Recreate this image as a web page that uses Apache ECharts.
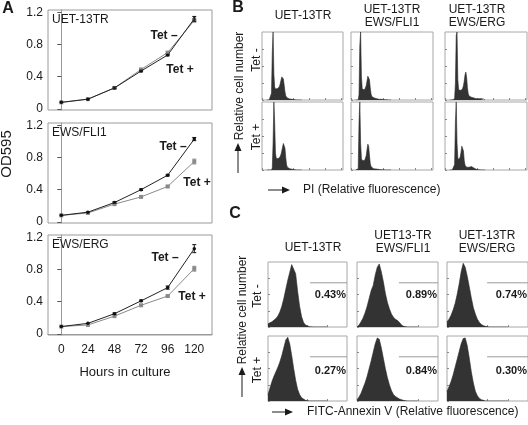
<!DOCTYPE html>
<html><head><meta charset="utf-8">
<script src="https://cdn.jsdelivr.net/npm/echarts@6/dist/echarts.min.js"></script>
<style>html,body{margin:0;padding:0;background:#fff}#c{width:528px;height:425px}</style>
</head><body><div id="c"></div>
<script>
// ---------- Panel A data ----------
const hours = [0, 24, 48, 72, 96, 120];
const yTicksA = [0, 0.4, 0.8, 1.2];
const growthNames = ['UET-13TR', 'EWS/FLI1', 'EWS/ERG'];
const uetMinus = [0.08, 0.12, 0.26, 0.47, 0.67, 1.12];
const uetPlus  = [0.08, 0.12, 0.26, 0.49, 0.70, 1.10];
const fliMinus = [0.08, 0.12, 0.24, 0.40, 0.58, 1.03];
const fliPlus  = [0.08, 0.11, 0.22, 0.31, 0.44, 0.75];
const ergMinus = [0.09, 0.13, 0.25, 0.41, 0.575, 1.06];
const ergPlus  = [0.09, 0.11, 0.22, 0.355, 0.47, 0.81];
const uetMinusErr = [0, 0, 0.01, 0.01, 0.01, 0.03];
const uetPlusErr  = [0, 0, 0.01, 0.01, 0.01, 0.02];
const fliMinusErr = [0, 0, 0.01, 0.01, 0.01, 0.02];
const fliPlusErr  = [0, 0, 0.01, 0.01, 0.01, 0.03];
const ergMinusErr = [0, 0, 0.01, 0.01, 0.02, 0.05];
const ergPlusErr  = [0, 0, 0, 0.01, 0.01, 0.03];

// ---------- Panel B data (PI histograms, channel vs relative count) ----------
const bColTitles = [['UET-13TR'], ['UET-13TR', 'EWS/FLI1'], ['UET-13TR', 'EWS/ERG']];
const bX = [60,70,80,90,100,110,120,130,140,150,160,170,180,190,200,210,220,230,240,250,260,270,280,290,300,310,320,330,340,350,360,370,380,390,400,410,420,430,440,450,460,470,480,490,500];
const bUetMinus = [0,0,0,0,0,1,10,70,100,38,19,16,15,16,17,18,20,24,29,34,35,31,22,12,6,4,3,2,2,1.5,1,1,1,0.5,0.5,0.5,0,0,0,0,0,0,0,0,0];
const bFliMinus = [0,0,0,0,8,80,100,35,16,14,14,15,17,21,28,35,37,30,18,9,5,4,3,3,2,2,2,1.5,1.5,1,1,1,1,0.5,0.5,0.5,0.5,0.3,0.2,0,0,0,0,0,0];
const bErgMinus = [0,0,0,0,0,0,2,25,95,100,30,15,13,13,14,15,17,21,28,37,41,33,18,9,6,5,4,4,3,3,3,2.5,2.5,2,2,2,2,2,2,2,2,1.5,1.5,1,0];
const bUetPlus  = [0,0,0,0,0,0,0,3,40,100,70,25,17,16,16,17,18,20,23,28,34,39,40,32,18,8,4,3,2,2,1.5,1,1,1,0.5,0.5,0.5,0,0,0,0,0,0,0,0];
const bFliPlus  = [0,0,0,2,70,100,40,17,14,13,13,14,16,21,30,38,35,22,10,5,3,2.5,2,2,1.5,1.5,1,1,1,0.8,0.6,0.5,0.5,0.3,0.2,0,0,0,0,0,0,0,0,0,0];
const bErgPlus  = [0,0,0,0,0,0,8,70,100,40,18,15,16,19,26,35,37,28,14,7,5,4,4,4,4,5,5,5,4,4,3,2,1.5,1,0.5,0.5,0.3,0,0,0,0,0,0,0,0];

// ---------- Panel C data (Annexin V histograms, log decades vs relative count) ----------
const cColTitles = [['UET-13TR'], ['UET13-TR', 'EWS/FLI1'], ['UET-13TR', 'EWS/ERG']];
const cX = [0,0.1,0.2,0.3,0.4,0.5,0.6,0.7,0.8,0.9,1.0,1.1,1.2,1.3,1.4,1.5,1.6,1.7,1.8,1.9,2.0,2.1,2.2,2.3,2.4,2.5,2.6,2.7,2.8,2.9,3.0];
const cUetMinus = [5,6,8,10,13,17,23,32,44,58,72,84,96,98,82,55,32,16,7,3,1,0.5,0,0,0,0,0,0,0,0,0];
const cFliMinus = [0,3,8,14,22,32,44,56,64,80,92,97,85,70,52,38,28,20,15,12,10,7,3,1,0.5,0,0,0,0,0,0];
const cErgMinus = [8,12,18,26,36,50,66,85,98,92,78,62,45,30,20,12,7,4,2,1,0.5,0,0,0,0,0,0,0,0,0,0];
const cUetPlus  = [10,20,30,38,45,52,60,70,82,94,98,88,70,50,32,18,10,5,2,1,0,0,0,0,0,0,0,0,0,0,0];
const cFliPlus  = [2,6,12,20,28,38,50,62,75,88,97,95,82,66,50,36,25,16,10,7,5,3,2,1,0.5,0,0,0,0,0,0];
const cErgPlus  = [15,22,30,40,52,64,76,88,96,97,85,66,45,28,15,8,4,2,1,0,0,0,0,0,0,0,0,0,0,0,0];
const cPercents = ['0.43%', '0.89%', '0.74%', '0.27%', '0.84%', '0.30%'];
const cGateStart = [2.13, 2.07, 1.98];
const cGateLevel = 68;

// ---------- build ----------
const FONT = '"Liberation Sans", Arial, Helvetica, sans-serif';
const INK = '#1a1a1a';
const grid = [], xAxis = [], yAxis = [], series = [], graphic = [];

function text(x, y, s, size, o) {
  o = o || {};
  return {type: 'text', x: x, y: y, rotation: o.rot || 0, z: 100,
    style: {text: s, x: 0, y: 0, fontSize: size, fontFamily: FONT, fontWeight: o.bold ? 'bold' : 'normal',
      fill: o.fill || INK, textAlign: o.align || 'center', textVerticalAlign: 'middle'}};
}
function arrowUp(x, yBottom, yTop) {
  graphic.push({type: 'line', shape: {x1: x, y1: yBottom, x2: x, y2: yTop + 6}, style: {stroke: INK, lineWidth: 1}});
  graphic.push({type: 'polygon', shape: {points: [[x - 3.5, yTop + 8], [x + 3.5, yTop + 8], [x, yTop]]}, style: {fill: INK}});
}
function arrowRight(xLeft, xRight, y) {
  graphic.push({type: 'line', shape: {x1: xLeft, y1: y, x2: xRight - 6, y2: y}, style: {stroke: INK, lineWidth: 1}});
  graphic.push({type: 'polygon', shape: {points: [[xRight - 8, y - 3.5], [xRight - 8, y + 3.5], [xRight, y]]}, style: {fill: INK}});
}

// Panel A
const aTops = [10, 123, 235];
const aMinus = [uetMinus, fliMinus, ergMinus], aPlus = [uetPlus, fliPlus, ergPlus];
const aMinusErr = [uetMinusErr, fliMinusErr, ergMinusErr], aPlusErr = [uetPlusErr, fliPlusErr, ergPlusErr];
function errSeries(gi, vals, errs, color) {
  return {type: 'custom', xAxisIndex: gi, yAxisIndex: gi, z: 5,
    data: hours.map((h, i) => [h, vals[i] - errs[i], vals[i] + errs[i]]),
    renderItem: function (params, api) {
      const lo = api.coord([api.value(0), api.value(1)]);
      const hi = api.coord([api.value(0), api.value(2)]);
      if (Math.abs(lo[1] - hi[1]) < 1.5) return null;
      const st = {stroke: color, lineWidth: 1};
      return {type: 'group', children: [
        {type: 'line', shape: {x1: lo[0], y1: lo[1], x2: hi[0], y2: hi[1]}, style: st},
        {type: 'line', shape: {x1: lo[0] - 2, y1: lo[1], x2: lo[0] + 2, y2: lo[1]}, style: st},
        {type: 'line', shape: {x1: hi[0] - 2, y1: hi[1], x2: hi[0] + 2, y2: hi[1]}, style: st}]};
    }};
}
aTops.forEach((top, i) => {
  const gi = grid.length;
  grid.push({left: 48, top: top, width: 164, height: 100, show: true, borderColor: '#9a9a9a', borderWidth: 1, backgroundColor: 'transparent'});
  xAxis.push({gridIndex: gi, type: 'value', min: -12, max: 136,
    axisLine: {show: i === 2, lineStyle: {color: '#9a9a9a'}}, axisTick: {show: false}, splitLine: {show: false},
    axisLabel: {show: i === 2, customValues: hours, fontSize: 12, fontFamily: FONT, color: INK, margin: 9}});
  yAxis.push({gridIndex: gi, type: 'value', min: -0.015, max: 1.23,
    axisLine: {show: true, lineStyle: {color: '#9a9a9a'}},
    axisTick: {show: true, customValues: yTicksA, length: 4, lineStyle: {color: '#555'}},
    axisLabel: {customValues: yTicksA, fontSize: 12, fontFamily: FONT, color: INK, margin: 5,
      formatter: v => v === 0 ? '0' : v.toFixed(1)}, splitLine: {show: false}});
  series.push({type: 'line', xAxisIndex: gi, yAxisIndex: gi, data: hours.map((h, k) => [h, aPlus[i][k]]),
    symbol: 'rect', symbolSize: 4, itemStyle: {color: '#8a8a8a'}, lineStyle: {color: '#8a8a8a', width: 1}, z: 3, animation: false});
  series.push({type: 'line', xAxisIndex: gi, yAxisIndex: gi, data: hours.map((h, k) => [h, aMinus[i][k]]),
    symbol: 'circle', symbolSize: 3.5, itemStyle: {color: '#111'}, lineStyle: {color: '#222', width: 1}, z: 4, animation: false});
  series.push(errSeries(gi, aPlus[i], aPlusErr[i], '#8a8a8a'));
  series.push(errSeries(gi, aMinus[i], aMinusErr[i], '#111'));
  graphic.push(text(52, top + 10, growthNames[i], 12, {align: 'left'}));
});
graphic.push(text(164, 36, 'Tet \u2013', 12, {bold: true}));
graphic.push(text(180, 70, 'Tet +', 12, {bold: true}));
graphic.push(text(173, 147, 'Tet \u2013', 12, {bold: true}));
graphic.push(text(197, 183, 'Tet +', 12, {bold: true}));
graphic.push(text(165, 258, 'Tet \u2013', 12, {bold: true}));
graphic.push(text(192, 297, 'Tet +', 12, {bold: true}));
graphic.push(text(8, 9, 'A', 16, {bold: true}));
graphic.push(text(125, 372, 'Hours in culture', 13));
graphic.push(text(7, 154, 'OD595', 15, {rot: Math.PI / 2}));

// Panel B
const bLefts = [262, 351, 445], bWidths = [81, 82, 82], bTops = [32, 102];
const bData = [[bUetMinus, bFliMinus, bErgMinus], [bUetPlus, bFliPlus, bErgPlus]];
function histGrid(left, top, w, h, xmin, xmax, xTicks, ymaxv) {
  const gi = grid.length;
  grid.push({left: left, top: top, width: w, height: h, show: true, borderColor: '#a8a8a8', borderWidth: 1, backgroundColor: 'transparent'});
  xAxis.push({gridIndex: gi, type: 'value', min: xmin, max: xmax, axisLine: {show: false},
    axisTick: {show: true, inside: true, length: 2, customValues: xTicks, lineStyle: {color: '#888'}},
    axisLabel: {show: false}, splitLine: {show: false}});
  yAxis.push({gridIndex: gi, type: 'value', min: 0, max: ymaxv, axisLine: {show: false},
    axisTick: {show: true, inside: true, length: 2, customValues: [0, 25, 50, 75], lineStyle: {color: '#888'}},
    axisLabel: {show: false}, splitLine: {show: false}});
  return gi;
}
function histSeries(gi, xs, ys) {
  series.push({type: 'line', xAxisIndex: gi, yAxisIndex: gi, data: xs.map((x, k) => [x, ys[k]]),
    symbol: 'none', lineStyle: {color: '#2a2a2a', width: 0.6}, areaStyle: {color: '#333333', opacity: 1},
    z: 2, animation: false, clip: true});
}
bTops.forEach((top, r) => {
  bLefts.forEach((left, c) => {
    const gi = histGrid(left, top, bWidths[c], 68, 0, 1023, [0, 200, 400, 600, 800, 1000], 100);
    histSeries(gi, bX, bData[r][c]);
  });
});
graphic.push(text(238, 8, 'B', 16, {bold: true}));
graphic.push(text(303, 16, bColTitles[0][0], 12));
graphic.push(text(392, 10, bColTitles[1][0], 12));
graphic.push(text(392, 23, bColTitles[1][1], 12));
graphic.push(text(477, 10, bColTitles[2][0], 12));
graphic.push(text(477, 23, bColTitles[2][1], 12));
graphic.push(text(257, 60, 'Tet -', 12, {rot: Math.PI / 2}));
graphic.push(text(257, 137, 'Tet +', 12, {rot: Math.PI / 2}));
graphic.push(text(240, 86, 'Relative cell number', 12, {rot: Math.PI / 2}));
arrowUp(238, 173, 143);
arrowRight(268, 290, 190);
graphic.push(text(303, 190, 'PI (Relative fluorescence)', 12, {align: 'left'}));

// Panel C
const cLefts = [268, 357, 447], cWidths = [79, 81, 81], cTops = [262, 336];
const cData = [[cUetMinus, cFliMinus, cErgMinus], [cUetPlus, cFliPlus, cErgPlus]];
cTops.forEach((top, r) => {
  cLefts.forEach((left, c) => {
    const gi = histGrid(left, top, cWidths[c], 65, 0, 4, [1, 2, 3], 100);
    histSeries(gi, cX, cData[r][c]);
    series.push({type: 'line', xAxisIndex: gi, yAxisIndex: gi, data: [[cGateStart[c], cGateLevel], [4, cGateLevel]],
      symbol: 'none', lineStyle: {color: '#9a9a9a', width: 1}, z: 3, animation: false});
    graphic.push(text(left + cWidths[c] - 1, top + (r === 0 ? 33 : 35), cPercents[r * 3 + c], 11, {bold: true, align: 'right'}));
  });
});
graphic.push(text(235, 214, 'C', 16, {bold: true}));
graphic.push(text(313, 248, cColTitles[0][0], 12));
graphic.push(text(403, 236, cColTitles[1][0], 12));
graphic.push(text(403, 249, cColTitles[1][1], 12));
graphic.push(text(487, 236, cColTitles[2][0], 12));
graphic.push(text(487, 249, cColTitles[2][1], 12));
graphic.push(text(258, 296, 'Tet -', 12, {rot: Math.PI / 2}));
graphic.push(text(258, 370, 'Tet +', 12, {rot: Math.PI / 2}));
graphic.push(text(243, 310, 'Relative cell number', 12, {rot: Math.PI / 2}));
arrowUp(242, 397, 367);
arrowRight(272, 293, 412);
graphic.push(text(307, 412, 'FITC-Annexin V (Relative fluorescence)', 12, {align: 'left'}));

const chart = echarts.init(document.getElementById('c'), null, {renderer: 'canvas'});
chart.setOption({animation: false, backgroundColor: '#fff', grid: grid, xAxis: xAxis, yAxis: yAxis, series: series, graphic: graphic});
</script></body></html>
